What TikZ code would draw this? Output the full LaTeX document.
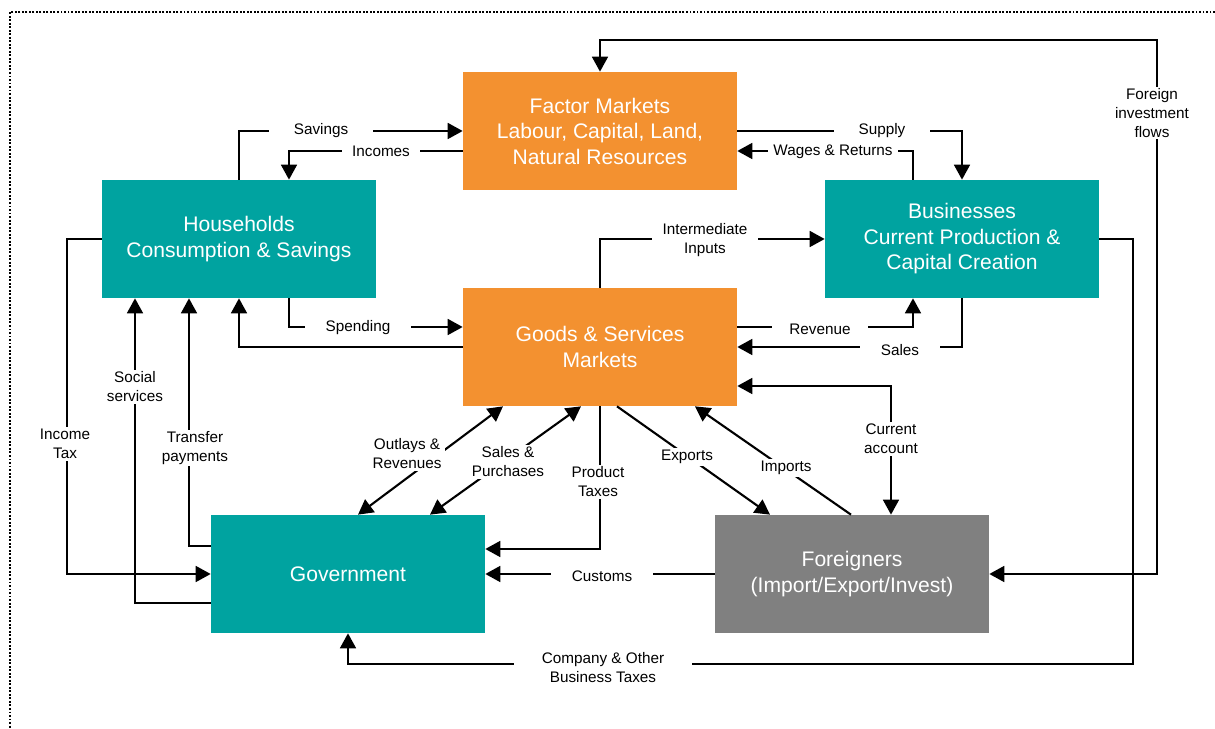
\documentclass[tikz,border=0pt]{standalone}
\usepackage{fontspec}
\setmainfont{Liberation Sans}
\usetikzlibrary{arrows.meta, calc}
\definecolor{factorc}{RGB}{243,145,48}
\definecolor{tealc}{RGB}{0,163,160}
\definecolor{foreignc}{RGB}{128,128,128}

\begin{document}
\begin{tikzpicture}[x=0.02cm, y=-0.02cm,
  box/.style={minimum width=5.48cm, minimum height=2.36cm, inner sep=0pt, align=center, text=white, font=\fontsize{12}{14.5}\selectfont},
  mkt/.style={box, fill=factorc},
  sec/.style={box, fill=tealc},
  frn/.style={box, fill=foreignc},
  flow/.style={line width=1.2pt, -{Triangle[length=8.5pt,width=9pt]}},
  both/.style={flow, {Triangle[length=8.5pt,width=9pt]}-{Triangle[length=8.5pt,width=9pt]}},
  lbl/.style={fill=white, inner xsep=6pt, inner ysep=1pt, align=center, font=\fontsize{8.7}{10.8}\selectfont}]
\useasboundingbox (0,0) rectangle (1215,729);
\draw[line width=1.2pt, dash pattern=on 1.1pt off 0.9pt] (1215,12) -- (10,12) -- (10,729);
% sectors and markets
\node[mkt] (fm) at (600,131) {Factor Markets\\Labour, Capital, Land,\\Natural Resources};
\node[sec] (hh) at (239,239) {Households\\Consumption \& Savings};
\node[sec] (bz) at (962,239) {Businesses\\Current Production \&\\Capital Creation};
\node[mkt] (gs) at (600,347) {Goods \& Services\\Markets};
\node[sec] (gv) at (348,574) {Government};
\node[frn] (fr) at (852,574) {Foreigners\\(Import/Export/Invest)};
\coordinate (ftop) at (1157,40);
\coordinate (ctax) at (1133,664);
\coordinate (itax) at (67,574);
% flows
\draw[flow] (hh.north) |- (fm.west);
\draw[flow] ($(fm.west)+(0,20)$) -| ($(hh.north)+(50,0)$);
\draw[flow] (fm.east) -| (bz.north);
\draw[flow] ($(bz.north)+(-49,0)$) |- ($(fm.east)+(0,20)$);
\draw[both] (fr.east) -| (ftop) -| (fm.north);
\draw[flow] (bz.east) -| (ctax) -| (gv.south);
\draw[flow] (gs.north) |- (bz.west);
\draw[flow] ($(gs.east)+(0,-20)$) -| ($(bz.south)+(-49,0)$);
\draw[flow] (bz.south) |- (gs.east);
\draw[flow] ($(hh.south)+(50,0)$) |- ($(gs.west)+(0,-20)$);
\draw[flow] (gs.west) -| (hh.south);
\draw[both] ($(gs.east)+(0,39)$) -| ($(fr.north)+(39,0)$);
\draw[flow] ($(gs.south)+(17,0)$) -- ($(fr.north)+(-82,0)$);
\draw[flow] ($(fr.north)+(-1,0)$) -- ($(gs.south)+(95,0)$);
\draw[both] ($(gs.south)+(-97,0)$) -- ($(gv.north)+(10,0)$);
\draw[both] ($(gs.south)+(-19,0)$) -- ($(gv.north)+(82,0)$);
\draw[flow] (gs.south) |- ($(gv.east)+(0,-25)$);
\draw[flow] (fr.west) -- (gv.east);
\draw[flow] ($(gv.west)+(0,29)$) -| ($(hh.south)+(-104,0)$);
\draw[flow] ($(gv.west)+(0,-28)$) -| ($(hh.south)+(-50,0)$);
\draw[flow] (hh.west) -| (itax) -- (gv.west);
% labels
\node[lbl, inner xsep=14pt] (savings) at (321,131) {Savings};
\node[lbl] (incomes) at (381,151) {Incomes};
\node[lbl, inner xsep=14pt] (supply) at (882,131) {Supply};
\node[lbl, inner xsep=3pt] (wages) at (833,152) {Wages \& Returns};
\node[lbl] (fdi) at (1152,113) {Foreign\\investment\\flows};
\node[lbl] (inter) at (705,240) {Intermediate\\Inputs};
\node[lbl, inner xsep=10pt] (revenue) at (820,329) {Revenue};
\node[lbl, inner xsep=12pt] (sales) at (900,350) {Sales};
\node[lbl, inner xsep=12pt] (spending) at (358,328) {Spending};
\node[lbl] (curacc) at (891,439) {Current\\account};
\node[lbl, inner xsep=2pt] (exports) at (687,457) {Exports};
\node[lbl, inner xsep=2pt] (imports) at (786,468) {Imports};
\node[lbl, inner xsep=2pt] (outlays) at (407,454) {Outlays \&\\Revenues};
\node[lbl, inner xsep=2pt] (salpur) at (508,462) {Sales \&\\Purchases};
\node[lbl, inner xsep=3pt] (ptax) at (598,482) {Product\\Taxes};
\node[lbl, inner xsep=12pt] (customs) at (602,576) {Customs};
\node[lbl, inner xsep=2pt] (social) at (135,387) {Social\\services};
\node[lbl, inner xsep=2pt] (transfer) at (195,448) {Transfer\\payments};
\node[lbl, inner xsep=2pt] (income) at (65,444) {Income\\Tax};
\node[lbl, inner xsep=16pt] (comptax) at (603,668) {Company \& Other\\Business Taxes};
\end{tikzpicture}
\end{document}
